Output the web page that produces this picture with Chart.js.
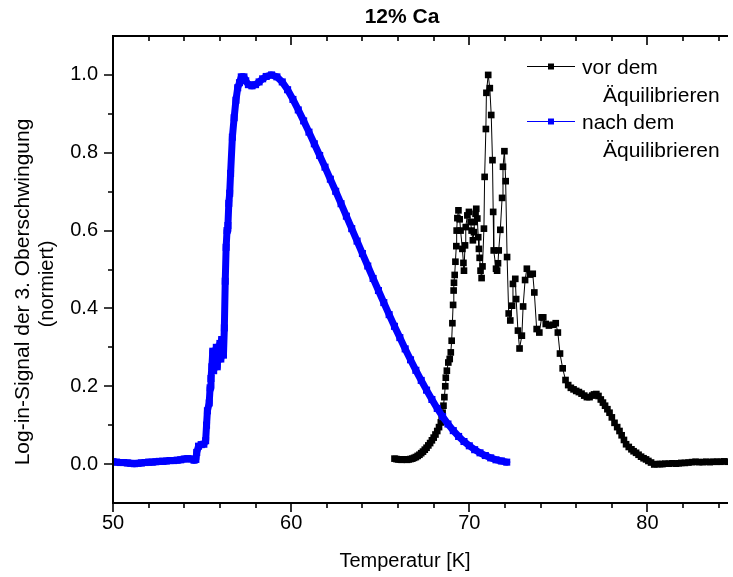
<!DOCTYPE html>
<html>
<head>
<meta charset="utf-8">
<script src="https://cdn.jsdelivr.net/npm/chart.js@4.4.1/dist/chart.umd.min.js"></script>
<style>
  html, body { margin: 0; padding: 0; background: #fff; overflow: hidden; }
  #wrap { width: 733px; height: 577px; position: relative; }
</style>
</head>
<body>
<div id="wrap"><canvas id="chart" width="733" height="577"></canvas></div>
<script>
// ---- data ----
const chartTitle = '12% Ca';
const xTitle = 'Temperatur [K]';
const yTitleLines = ['Log-in-Signal der 3. Oberschwingung', '(normiert)'];
const seriesNames = [['vor dem', 'Äquilibrieren'], ['nach dem', 'Äquilibrieren']];

const xTicks = [50, 60, 70, 80];
const yTicks = [0.0, 0.2, 0.4, 0.6, 0.8, 1.0];

// vor dem Äquilibrieren (black)
const vorT = [65.8, 65.9, 66.0, 66.1, 66.2, 66.3, 66.4, 66.5, 66.6, 66.7, 66.8, 66.9, 67.0, 67.1, 67.2, 67.3, 67.4, 67.5, 67.6, 67.7,
  67.8, 67.9, 68.0, 68.1, 68.2, 68.3, 68.4, 68.45, 68.5, 68.55, 68.6, 68.65, 68.68, 68.74, 68.82, 68.9, 68.96, 69.01, 69.05, 69.09,
  69.12, 69.14, 69.18, 69.22, 69.27, 69.29, 69.33, 69.39, 69.46, 69.51, 69.61, 69.67, 69.70, 69.76, 69.80, 69.89, 69.98, 70.07, 70.13, 70.20,
  70.26, 70.29, 70.35, 70.39, 70.45, 70.50, 70.54, 70.58, 70.63, 70.69, 70.74, 70.82, 70.86, 70.93, 70.96, 71.06, 71.15, 71.23, 71.30, 71.34,
  71.37, 71.50, 71.56, 71.61, 71.65, 71.74, 71.84, 71.89, 71.97, 72.04, 72.12, 72.21, 72.30, 72.40, 72.45, 72.58, 72.63, 72.73, 72.82, 72.95,
  73.02, 73.13, 73.23, 73.41, 73.56, 73.65, 73.78, 73.93, 74.06, 74.15, 74.29, 74.47, 74.68, 74.85, 74.97, 75.09, 75.24, 75.40, 75.55, 75.70,
  75.85, 76.00, 76.15, 76.30, 76.45, 76.60, 76.75, 76.90, 77.00, 77.13, 77.25, 77.38, 77.50, 77.62, 77.75, 77.87, 78.00, 78.15, 78.30, 78.43,
  78.55, 78.68, 78.80, 78.95, 79.10, 79.22, 79.36, 79.50, 79.64, 79.78, 79.92, 80.05, 80.20, 80.38, 80.55, 80.70, 80.84, 81.00, 81.20, 81.40,
  81.60, 81.75, 81.90, 82.10, 82.30, 82.50, 82.70, 82.90, 83.10, 83.30, 83.50, 83.70, 83.90, 84.10, 84.30, 84.50, 84.70];
const vorV = [0.014, 0.013, 0.012, 0.012, 0.011, 0.012, 0.012, 0.011, 0.012, 0.013, 0.014, 0.016, 0.018, 0.021, 0.024, 0.028, 0.032, 0.037, 0.042, 0.048,
  0.054, 0.061, 0.068, 0.076, 0.085, 0.095, 0.107, 0.118, 0.132, 0.150, 0.172, 0.200, 0.222, 0.240, 0.261, 0.270, 0.287, 0.317, 0.362, 0.409,
  0.446, 0.466, 0.486, 0.520, 0.560, 0.600, 0.632, 0.652, 0.629, 0.600, 0.553, 0.517, 0.497, 0.562, 0.609, 0.639, 0.648, 0.622, 0.600, 0.575,
  0.596, 0.622, 0.643, 0.656, 0.631, 0.583, 0.553, 0.530, 0.497, 0.478, 0.508, 0.605, 0.738, 0.861, 0.954, 1.000, 0.966, 0.897, 0.781, 0.648,
  0.549, 0.502, 0.497, 0.516, 0.549, 0.602, 0.684, 0.764, 0.804, 0.727, 0.532, 0.387, 0.369, 0.407, 0.463, 0.476, 0.424, 0.343, 0.297, 0.330,
  0.405, 0.473, 0.502, 0.487, 0.489, 0.441, 0.347, 0.338, 0.377, 0.377, 0.360, 0.356, 0.358, 0.362, 0.338, 0.284, 0.246, 0.216, 0.203, 0.196,
  0.192, 0.188, 0.185, 0.181, 0.176, 0.172, 0.172, 0.176, 0.179, 0.180, 0.175, 0.166, 0.158, 0.150, 0.141, 0.132, 0.120, 0.106, 0.095, 0.085,
  0.074, 0.062, 0.051, 0.044, 0.038, 0.033, 0.029, 0.024, 0.019, 0.015, 0.012, 0.008, 0.004, -0.001, 0.000, 0.000, 0.000, 0.001, 0.001, 0.002,
  0.001, 0.002, 0.003, 0.003, 0.004, 0.005, 0.006, 0.005, 0.005, 0.006, 0.005, 0.006, 0.006, 0.006, 0.007, 0.006, 0.006];

// nach dem Äquilibrieren (blue)
const nachT = [50.0, 50.2, 50.4, 50.6, 50.8, 51.0, 51.2, 51.4, 51.6, 51.8, 52.0, 52.2, 52.4, 52.6, 52.8, 53.0, 53.2, 53.4, 53.6, 53.8,
  54.0, 54.2, 54.4, 54.55, 54.65, 54.7, 54.8, 54.95, 55.1, 55.2, 55.25, 55.3, 55.4, 55.45, 55.5, 55.55, 55.6, 55.65, 55.7, 55.8,
  55.85, 55.9, 56.0, 56.05, 56.1, 56.2, 56.25, 56.3, 56.35, 56.4, 56.45, 56.5, 56.55, 56.6, 56.7, 56.8, 56.9, 57.0, 57.1, 57.2,
  57.35, 57.45, 57.6, 57.8, 58.0, 58.2, 58.4, 58.6, 58.9, 59.2, 59.5, 59.8, 60.1, 60.4, 60.7, 61.0, 61.3, 61.6, 61.9, 62.2,
  62.5, 62.8, 63.1, 63.4, 63.7, 64.0, 64.3, 64.6, 64.9, 65.2, 65.5, 65.8, 66.1, 66.4, 66.7, 67.0, 67.3, 67.6, 67.9, 68.2,
  68.5, 68.8, 69.1, 69.4, 69.7, 70.0, 70.3, 70.6, 70.9, 71.2, 71.5, 71.8, 72.1];
const nachV = [0.006, 0.005, 0.004, 0.004, 0.003, 0.002, 0.001, 0.002, 0.003, 0.004, 0.005, 0.005, 0.006, 0.007, 0.007, 0.008, 0.009, 0.009, 0.010, 0.011,
  0.013, 0.014, 0.013, 0.010, 0.012, 0.030, 0.046, 0.050, 0.051, 0.060, 0.100, 0.137, 0.157, 0.196, 0.220, 0.250, 0.290, 0.240, 0.270, 0.300,
  0.250, 0.285, 0.310, 0.270, 0.320, 0.280, 0.350, 0.470, 0.557, 0.600, 0.613, 0.670, 0.696, 0.747, 0.840, 0.890, 0.935, 0.967, 0.980, 0.995,
  0.995, 0.985, 0.975, 0.972, 0.975, 0.982, 0.990, 0.996, 1.000, 0.995, 0.982, 0.962, 0.937, 0.910, 0.882, 0.853, 0.823, 0.793, 0.763, 0.732,
  0.701, 0.669, 0.637, 0.605, 0.573, 0.541, 0.509, 0.477, 0.446, 0.415, 0.384, 0.354, 0.325, 0.296, 0.268, 0.241, 0.215, 0.190, 0.166, 0.143,
  0.122, 0.103, 0.086, 0.071, 0.058, 0.047, 0.037, 0.029, 0.022, 0.016, 0.011, 0.008, 0.005];

const FONT = '"Liberation Sans", Arial, Helvetica, sans-serif';
const BLUE = '#0000ff';

function toPoints(xs, ys) {
    return xs.map((x, i) => ({ x: x, y: ys[i] }));
}

// frame with minor ticks, like the Origin plot
const framePlugin = {
    id: 'frame',
    afterDatasetsDraw(chart) {
        const { ctx, chartArea: a } = chart;
        const sx = chart.scales.x, sy = chart.scales.y;
        ctx.save();
        ctx.strokeStyle = '#000';
        ctx.lineWidth = 2;
        ctx.beginPath();
        ctx.moveTo(a.left, a.top); ctx.lineTo(a.right, a.top);
        ctx.moveTo(a.left, a.top - 1); ctx.lineTo(a.left, a.bottom + 1);
        ctx.moveTo(a.left, a.bottom); ctx.lineTo(a.right, a.bottom);
        ctx.stroke();

        ctx.lineWidth = 1.6;
        ctx.beginPath();
        // x ticks every 2 K, major every 10
        for (let v = 50; v <= sx.max; v += 2) {
            const px = Math.round(sx.getPixelForValue(v));
            const len = (v % 10 === 0) ? 9 : 5;
            ctx.moveTo(px, a.bottom); ctx.lineTo(px, a.bottom + len);
            ctx.moveTo(px, a.top); ctx.lineTo(px, a.top + len);
        }
        // y ticks every 0.1, major every 0.2
        for (let k = 0; k <= 10; k++) {
            const py = Math.round(sy.getPixelForValue(k / 10));
            const len = (k % 2 === 0) ? 9 : 5;
            ctx.moveTo(a.left, py); ctx.lineTo(a.left - len, py);
        }
        ctx.stroke();
        ctx.restore();
    },
    afterDraw(chart) {
        const { ctx } = chart;
        ctx.save();
        ctx.fillStyle = '#000';
        ctx.textBaseline = 'middle';

        // title
        ctx.font = 'bold 21px ' + FONT;
        ctx.textAlign = 'center';
        ctx.fillText(chartTitle, 402, 17);

        // x axis title
        ctx.font = '20px ' + FONT;
        ctx.fillText(xTitle, 405, 561);

        // y axis title (two lines)
        ctx.save();
        ctx.translate(23, 292);
        ctx.rotate(-Math.PI / 2);
        ctx.font = '21px ' + FONT;
        ctx.fillText(yTitleLines[0], 0, 0);
        ctx.font = '20px ' + FONT;
        ctx.fillText(yTitleLines[1], 8, 24);
        ctx.restore();

        // legend
        const rows = [
            { y: 66, color: '#000', name: seriesNames[0] },
            { y: 121, color: BLUE, name: seriesNames[1] }
        ];
        ctx.textAlign = 'left';
        ctx.font = '21px ' + FONT;
        rows.forEach(r => {
            ctx.strokeStyle = r.color;
            ctx.lineWidth = 1;
            ctx.beginPath();
            ctx.moveTo(527, r.y + 0.5); ctx.lineTo(575, r.y + 0.5);
            ctx.stroke();
            ctx.fillStyle = r.color;
            ctx.fillRect(548, r.y - 2.5, 6, 6);
            ctx.fillStyle = '#000';
            ctx.fillText(r.name[0], 582, r.y + 2);
            ctx.fillText(r.name[1], 603, r.y + 30);
        });
        ctx.restore();
    }
};

const ctx = document.getElementById('chart');
new Chart(ctx, {
    type: 'line',
    data: {
        datasets: [
            {
                label: seriesNames[1].join(' '),
                data: toPoints(nachT, nachV),
                borderColor: BLUE,
                backgroundColor: BLUE,
                borderWidth: 7,
                borderJoinStyle: 'round',
                borderCapStyle: 'round',
                pointStyle: 'rect',
                pointRadius: 5,
                pointBorderWidth: 0,
                tension: 0
            },
            {
                label: seriesNames[0].join(' '),
                data: toPoints(vorT, vorV),
                borderColor: '#000',
                backgroundColor: '#000',
                borderWidth: 1,
                pointStyle: 'rect',
                pointRadius: 4.7,
                pointBorderWidth: 0,
                tension: 0
            }
        ]
    },
    options: {
        responsive: false,
        animation: false,
        layout: { padding: { top: 36, right: 0, left: 0, bottom: 0 } },
        plugins: {
            legend: { display: false },
            title: { display: false },
            tooltip: { enabled: false }
        },
        scales: {
            x: {
                type: 'linear',
                min: 50,
                max: 84.52,
                afterBuildTicks: s => { s.ticks = xTicks.map(v => ({ value: v })); },
                afterFit: s => { s.height = 74; },
                grid: { display: false, drawTicks: false },
                border: { display: false },
                ticks: {
                    color: '#000',
                    font: { family: FONT, size: 20 },
                    padding: 8,
                    maxRotation: 0,
                    autoSkip: false
                }
            },
            y: {
                type: 'linear',
                min: -0.1,
                max: 1.1,
                afterBuildTicks: s => { s.ticks = yTicks.map(v => ({ value: v })); },
                afterFit: s => { s.width = 113; },
                grid: { display: false, drawTicks: false },
                border: { display: false },
                ticks: {
                    color: '#000',
                    font: { family: FONT, size: 20 },
                    padding: 15,
                    autoSkip: false,
                    callback: v => v.toFixed(1)
                }
            }
        }
    },
    plugins: [framePlugin]
});
</script>
</body>
</html>
